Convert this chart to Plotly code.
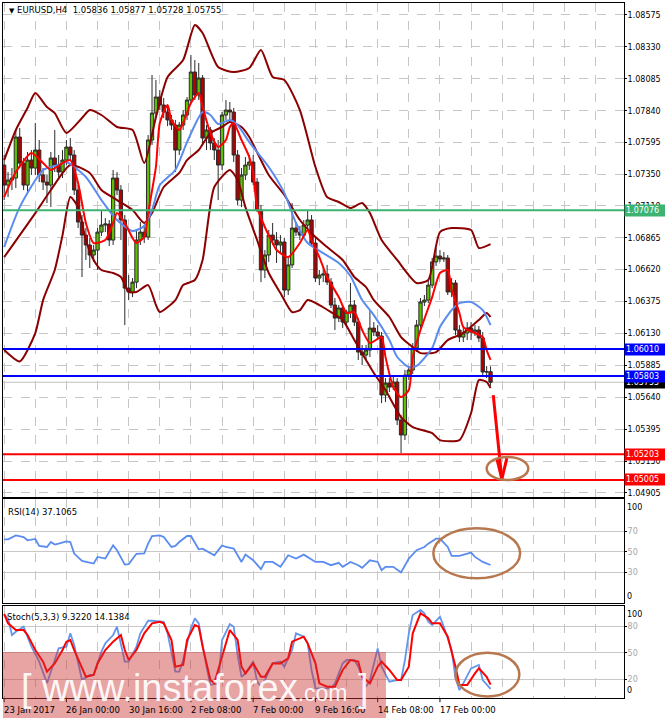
import plotly.graph_objects as go

FONT = "DejaVu Sans"

# EURUSD H4, bar 0 = 23 Jan 2017 08:00 (no weekend bars, like the terminal)
bars = list(range(126))

opens = [1.07423, 1.07269, 1.07308, 1.07323, 1.07638, 1.07438, 1.07269, 1.07461, 1.07400, 1.07538,
         1.07346, 1.07292, 1.07269, 1.07477, 1.07423, 1.07369, 1.07461, 1.07561, 1.07500, 1.07231,
         1.06985, 1.06885, 1.06809, 1.06732, 1.06770, 1.06908, 1.06962, 1.06970, 1.06847, 1.07323,
         1.07231, 1.07001, 1.06478, 1.06448, 1.06524, 1.06847, 1.06908, 1.06870, 1.07615, 1.07822,
         1.07945, 1.07884, 1.07830, 1.07769, 1.07730, 1.07538, 1.07730, 1.07807, 1.07922, 1.08137,
         1.07961, 1.08091, 1.07630, 1.07692, 1.07592, 1.07538, 1.07423, 1.07807, 1.07845, 1.07830,
         1.07500, 1.07154, 1.07346, 1.07423, 1.07446, 1.07292, 1.07077, 1.06617, 1.06732, 1.06885,
         1.06847, 1.06809, 1.06832, 1.06463, 1.06656, 1.06939, 1.06908, 1.06885, 1.06962, 1.07001,
         1.06824, 1.06555, 1.06578, 1.06586, 1.06524, 1.06348, 1.06248, 1.06325, 1.06217, 1.06294,
         1.06348, 1.06217, 1.05987, 1.05964, 1.06002, 1.06171, 1.06141, 1.06110, 1.05657, 1.05749,
         1.05718, 1.05757, 1.05465, 1.05350, 1.05810, 1.05849, 1.06018, 1.06194, 1.06371, 1.06386,
         1.06501, 1.06679, 1.06724, 1.06701, 1.06709, 1.06448, 1.06517, 1.06156, 1.06102, 1.06133,
         1.06171, 1.06141, 1.06156, 1.06095, 1.05834, 1.05836]

highs = [1.07500, 1.07369, 1.07400, 1.07692, 1.07707, 1.07477, 1.07523, 1.07538, 1.07746, 1.07615,
         1.07400, 1.07346, 1.07523, 1.07692, 1.07500, 1.07538, 1.07615, 1.07630, 1.07538, 1.07269,
         1.07039, 1.06939, 1.06862, 1.06809, 1.06939, 1.07077, 1.07016, 1.07001, 1.07385, 1.07369,
         1.07269, 1.07039, 1.06578, 1.06555, 1.06924, 1.06985, 1.06962, 1.07653, 1.08114, 1.08076,
         1.07999, 1.07938, 1.07884, 1.07807, 1.07769, 1.07753, 1.07845, 1.07945, 1.08268, 1.08229,
         1.08206, 1.08114, 1.07730, 1.07715, 1.07630, 1.07615, 1.07830, 1.07922, 1.07907, 1.07861,
         1.07538, 1.07400, 1.07484, 1.07500, 1.07500, 1.07323, 1.07116, 1.06770, 1.06924, 1.06978,
         1.06908, 1.06885, 1.06862, 1.06709, 1.07131, 1.06985, 1.06955, 1.07001, 1.07077, 1.07039,
         1.06862, 1.06617, 1.06632, 1.06656, 1.06555, 1.06402, 1.06348, 1.06348, 1.06309, 1.06517,
         1.06386, 1.06248, 1.06041, 1.06041, 1.06309, 1.06217, 1.06194, 1.06141, 1.05787, 1.05787,
         1.05803, 1.05787, 1.05503, 1.05849, 1.05880, 1.06056, 1.06233, 1.06402, 1.06425, 1.06540,
         1.06709, 1.06786, 1.06770, 1.06755, 1.06732, 1.06555, 1.06540, 1.06194, 1.06171, 1.06217,
         1.06217, 1.06194, 1.06187, 1.06141, 1.05880, 1.05877]

lows = [1.07154, 1.07177, 1.07231, 1.07246, 1.07400, 1.07231, 1.07216, 1.07346, 1.07346, 1.07292,
        1.07231, 1.07131, 1.07100, 1.07369, 1.07308, 1.07323, 1.07423, 1.07461, 1.07193, 1.06939,
        1.06563, 1.06694, 1.06632, 1.06679, 1.06617, 1.06878, 1.06908, 1.06801, 1.06809, 1.07193,
        1.06847, 1.06194, 1.06386, 1.06409, 1.06478, 1.06809, 1.06824, 1.06847, 1.07577, 1.07784,
        1.07845, 1.07784, 1.07722, 1.07692, 1.07369, 1.07500, 1.07692, 1.07769, 1.07899, 1.07922,
        1.07922, 1.07577, 1.07538, 1.07538, 1.07461, 1.07154, 1.07385, 1.07769, 1.07769, 1.07446,
        1.07116, 1.07100, 1.07308, 1.07385, 1.07269, 1.07062, 1.06524, 1.06555, 1.06679, 1.06809,
        1.06671, 1.06755, 1.06409, 1.06425, 1.06632, 1.06878, 1.06847, 1.06862, 1.06924, 1.06801,
        1.06524, 1.06501, 1.06524, 1.06501, 1.06325, 1.06156, 1.06217, 1.06171, 1.06179, 1.06248,
        1.06187, 1.05926, 1.05887, 1.05926, 1.05949, 1.06110, 1.06079, 1.05595, 1.05603, 1.05680,
        1.05695, 1.05426, 1.05212, 1.05311, 1.05772, 1.05819, 1.05987, 1.06156, 1.06340, 1.06363,
        1.06478, 1.06648, 1.06679, 1.06679, 1.06425, 1.06409, 1.06118, 1.06064, 1.06064, 1.06079,
        1.06079, 1.06110, 1.06064, 1.05810, 1.05787, 1.05728]

closes = [1.07269, 1.07308, 1.07323, 1.07638, 1.07438, 1.07269, 1.07461, 1.07400, 1.07538, 1.07346,
          1.07292, 1.07269, 1.07477, 1.07423, 1.07369, 1.07461, 1.07561, 1.07500, 1.07231, 1.06985,
          1.06885, 1.06809, 1.06732, 1.06770, 1.06908, 1.06962, 1.06970, 1.06847, 1.07323, 1.07231,
          1.07001, 1.06478, 1.06448, 1.06524, 1.06847, 1.06908, 1.06870, 1.07615, 1.07822, 1.07945,
          1.07884, 1.07830, 1.07769, 1.07730, 1.07538, 1.07730, 1.07807, 1.07922, 1.08137, 1.07961,
          1.08091, 1.07630, 1.07692, 1.07592, 1.07538, 1.07423, 1.07807, 1.07845, 1.07830, 1.07500,
          1.07154, 1.07346, 1.07423, 1.07446, 1.07292, 1.07077, 1.06617, 1.06732, 1.06885, 1.06847,
          1.06809, 1.06832, 1.06463, 1.06656, 1.06939, 1.06908, 1.06885, 1.06962, 1.07001, 1.06824,
          1.06555, 1.06578, 1.06586, 1.06524, 1.06348, 1.06248, 1.06325, 1.06217, 1.06294, 1.06348,
          1.06217, 1.05987, 1.05964, 1.06002, 1.06171, 1.06141, 1.06110, 1.05657, 1.05749, 1.05718,
          1.05757, 1.05465, 1.05350, 1.05810, 1.05849, 1.06018, 1.06194, 1.06371, 1.06386, 1.06501,
          1.06679, 1.06724, 1.06701, 1.06709, 1.06448, 1.06517, 1.06156, 1.06102, 1.06133, 1.06171,
          1.06141, 1.06156, 1.06095, 1.05834, 1.05836, 1.05755]

# Bollinger bands
ub_bars = [0, 3, 6, 8, 11, 13, 16, 20, 22, 25, 29, 33, 36, 39, 42, 46, 49, 51, 55, 59,
           63, 66, 69, 72, 76, 80, 83, 86, 89, 92, 94, 97, 101, 106, 109, 112, 115, 120, 122, 125]
ub_vals = [1.07461, 1.07692, 1.07861, 1.07976, 1.07868, 1.07822, 1.07669, 1.07784, 1.07845, 1.07807,
           1.07715, 1.07692, 1.07438, 1.07790, 1.08099, 1.08229, 1.08498, 1.08437, 1.08175, 1.08137,
           1.08168, 1.08306, 1.08099, 1.08076, 1.07845, 1.07408, 1.07177, 1.07139, 1.07093, 1.07131,
           1.07054, 1.06847, 1.06694, 1.06517, 1.06540, 1.06908, 1.06939, 1.06924, 1.06786, 1.06816]

mb_bars = [0, 8, 12, 17, 22, 25, 29, 33, 36, 38, 41, 45, 47, 50, 53, 56, 58, 61, 63, 68,
           72, 76, 80, 83, 87, 90, 93, 95, 99, 102, 105, 107, 111, 114, 117, 119, 122, 124, 125]
mb_vals = [1.06716, 1.07054, 1.07231, 1.07423, 1.07362, 1.07231, 1.07154, 1.07077, 1.06978, 1.07054,
           1.07254, 1.07362, 1.07461, 1.07538, 1.07669, 1.07715, 1.07753, 1.07715, 1.07638, 1.07346,
           1.07193, 1.07001, 1.06870, 1.06793, 1.06694, 1.06563, 1.06486, 1.06386, 1.06256, 1.06102,
           1.06025, 1.05979, 1.05987, 1.06079, 1.06118, 1.06156, 1.06233, 1.06287, 1.06256]

lb_bars = [0, 4, 8, 10, 13, 15, 17, 19, 21, 23, 25, 28, 30, 32, 34, 37, 39, 40, 44, 46,
           49, 51, 54, 58, 60, 62, 65, 68, 71, 74, 76, 78, 81, 84, 87, 90, 93, 95, 98, 102,
           105, 110, 112, 117, 120, 122, 124, 125]
lb_vals = [1.06002, 1.05915, 1.06133, 1.06386, 1.06617, 1.06885, 1.07177, 1.07100, 1.06847, 1.06694,
           1.06617, 1.06594, 1.06563, 1.06448, 1.06448, 1.06501, 1.06348, 1.06294, 1.06386, 1.06501,
           1.06540, 1.06694, 1.07254, 1.07385, 1.07308, 1.07100, 1.06847, 1.06594, 1.06440, 1.06294,
           1.06309, 1.06386, 1.06348, 1.06294, 1.06233, 1.06079, 1.05926, 1.05826, 1.05695, 1.05488,
           1.05411, 1.05365, 1.05311, 1.05311, 1.05519, 1.05772, 1.05757, 1.05711]

# slow (blue) and fast (red) moving averages
slow_bars = [0, 4, 10, 14, 16, 21, 25, 29, 33, 36, 38, 40, 44, 47, 51, 53, 55, 58, 60, 63,
             68, 72, 75, 78, 82, 86, 89, 92, 95, 99, 101, 104, 106, 110, 112, 115, 117, 120, 123, 125]
slow_vals = [1.06793, 1.07100, 1.07385, 1.07423, 1.07446, 1.07331, 1.07154, 1.07001, 1.06916, 1.06955,
             1.07077, 1.07269, 1.07385, 1.07599, 1.07830, 1.07807, 1.07738, 1.07769, 1.07730, 1.07599,
             1.07408, 1.07208, 1.06978, 1.06824, 1.06747, 1.06671, 1.06571, 1.06386, 1.06271, 1.06079,
             1.05949, 1.05872, 1.05880, 1.06018, 1.06179, 1.06309, 1.06363, 1.06371, 1.06309, 1.06194]

fast_bars = [0, 3, 7, 10, 12, 15, 17, 19, 21, 23, 26, 28, 29, 31, 33, 34, 36, 37, 39, 40,
             42, 43, 45, 46, 48, 50, 51, 53, 55, 57, 58, 59, 61, 63, 64, 65, 67, 69, 70, 73,
             76, 78, 79, 81, 83, 86, 88, 90, 92, 94, 97, 98, 100, 102, 104, 105, 107, 110, 112, 114,
             115, 117, 118, 121, 123, 124, 125]
fast_vals = [1.07177, 1.07369, 1.07515, 1.07438, 1.07385, 1.07438, 1.07461, 1.07285, 1.06978, 1.06824,
             1.06847, 1.06978, 1.07054, 1.06978, 1.06862, 1.06824, 1.06870, 1.07054, 1.07408, 1.07746,
             1.07884, 1.07769, 1.07692, 1.07746, 1.07899, 1.07976, 1.07868, 1.07669, 1.07561, 1.07615,
             1.07715, 1.07746, 1.07615, 1.07484, 1.07362, 1.07100, 1.06947, 1.06824, 1.06770, 1.06716,
             1.06824, 1.06924, 1.06847, 1.06716, 1.06563, 1.06409, 1.06287, 1.06294, 1.06156, 1.06056,
             1.06102, 1.05949, 1.05718, 1.05641, 1.05695, 1.05949, 1.06156, 1.06409, 1.06594, 1.06617,
             1.06463, 1.06287, 1.06179, 1.06133, 1.06102, 1.06002, 1.05926]

# RSI(14)
rsi_bars = [0, 1, 3, 5, 6, 8, 9, 11, 12, 13, 14, 16, 17, 18, 20, 21, 23, 24, 26, 28,
            29, 31, 32, 34, 36, 37, 38, 40, 41, 43, 44, 45, 47, 48, 50, 51, 54, 56, 57, 59,
            61, 62, 64, 66, 67, 69, 71, 73, 75, 77, 80, 82, 84, 86, 87, 89, 91, 92, 94, 96,
            97, 98, 100, 102, 104, 106, 108, 109, 111, 112, 114, 115, 117, 120, 121, 123, 125]
rsi_vals = [62.1, 62.1, 66.0, 64.4, 61.2, 62.5, 55.7, 54.7, 59.5, 57.0, 57.9, 60.2, 59.5, 48.2, 41.1, 40.1, 38.5, 45.0, 43.4, 56.3,
            51.5, 37.5, 38.0, 48.0, 48.5, 57.9, 65.4, 66.0, 64.4, 54.7, 55.7, 59.5, 65.4, 65.4, 52.4, 53.1, 46.6, 56.3, 54.7, 53.1,
            40.1, 47.2, 41.7, 33.0, 40.1, 40.1, 35.3, 46.6, 43.4, 47.2, 40.1, 40.1, 36.9, 39.2, 35.3, 40.1, 36.9, 34.3, 41.7, 40.1,
            32.0, 35.3, 35.3, 29.8, 43.4, 51.5, 54.7, 57.9, 62.8, 62.8, 54.7, 46.0, 46.0, 49.2, 45.0, 40.1, 37.1]

# Stochastic(5,3,3): main and signal
k_bars = [0, 1, 2, 3, 5, 6, 7, 9, 10, 11, 12, 14, 16, 17, 18, 19, 20, 22, 23, 25,
          26, 28, 29, 31, 32, 34, 35, 37, 38, 41, 42, 44, 45, 46, 48, 49, 50, 52, 53, 55,
          56, 58, 59, 60, 61, 62, 64, 65, 66, 67, 69, 71, 72, 74, 75, 77, 78, 79, 80, 82,
          84, 85, 87, 88, 90, 91, 93, 94, 95, 96, 97, 98, 99, 101, 102, 103, 104, 105, 107, 108,
          109, 110, 112, 113, 115, 116, 117, 118, 120, 122, 123, 125]
k_vals = [92.4, 88.6, 69.9, 73.6, 79.2, 68.0, 56.8, 40.0, 28.7, 15.6, 28.7, 54.9, 56.8, 71.8, 58.6, 38.0, 19.3, 25.0, 25.0, 51.2,
          60.5, 69.9, 79.2, 40.0, 40.0, 56.8, 71.8, 85.9, 85.9, 84.8, 71.8, 28.7, 28.7, 41.8, 77.4, 88.6, 83.0, 34.3, 13.7, 15.6,
          64.3, 82.2, 79.2, 47.4, 23.0, 26.8, 40.0, 17.5, 11.8, 19.3, 38.0, 40.0, 34.3, 53.0, 71.8, 68.0, 60.5, 30.6, 10.0, 10.0,
          10.0, 15.6, 38.0, 41.8, 41.8, 34.3, 11.8, 19.3, 38.0, 54.9, 34.3, 25.0, 17.5, 19.3, 19.3, 41.8, 71.8, 92.4, 98.0, 94.3,
          84.8, 81.1, 90.5, 79.2, 53.0, 21.2, 8.1, 15.6, 32.4, 36.2, 19.3, 9.322]
d_bars = [0, 1, 3, 5, 6, 8, 10, 11, 13, 15, 16, 17, 18, 20, 21, 23, 24, 26, 28, 30,
          31, 32, 34, 36, 38, 40, 41, 43, 44, 46, 47, 49, 50, 51, 53, 54, 56, 58, 60, 61,
          62, 64, 66, 67, 69, 71, 73, 74, 77, 78, 80, 81, 83, 85, 87, 89, 91, 92, 94, 96,
          97, 99, 101, 102, 104, 105, 107, 109, 110, 112, 114, 116, 117, 119, 121, 122, 124, 125]
d_vals = [93.5, 83.0, 75.5, 75.5, 69.9, 53.0, 40.0, 28.7, 38.0, 53.0, 62.4, 64.3, 53.0, 34.3, 23.0, 25.0, 38.0, 53.0, 62.4, 69.9,
          53.0, 41.8, 53.0, 71.8, 83.0, 84.8, 83.0, 64.3, 34.3, 36.2, 64.3, 81.1, 79.2, 56.8, 19.3, 15.6, 45.5, 75.5, 64.3, 34.3,
          26.8, 38.0, 23.0, 23.0, 38.0, 38.0, 43.7, 62.4, 68.0, 60.5, 38.0, 15.6, 11.8, 11.8, 30.6, 41.8, 40.0, 23.0, 15.6, 34.3,
          40.0, 30.6, 19.3, 19.3, 34.3, 71.8, 94.3, 88.6, 83.0, 83.0, 68.0, 34.3, 13.7, 13.7, 26.8, 32.4, 23.0, 14.1384]

# axis labels
date_ticks = [0, 16, 32, 48, 64, 80, 96, 112]
date_labels = ["23 Jan 2017", "26 Jan 00:00", "30 Jan 16:00", "2 Feb 08:00",
               "7 Feb 00:00", "9 Feb 16:00", "14 Feb 08:00", "17 Feb 00:00"]
price_ticks = [1.08575, 1.08330, 1.08085, 1.07840, 1.07595, 1.07350, 1.07110, 1.06865,
               1.06620, 1.06375, 1.06130, 1.05885, 1.05640, 1.05395, 1.05150, 1.04905]
rsi_levels = [30, 50, 70]
stoch_levels = [20, 50, 80]

# horizontal levels drawn by the analyst
green_level = 1.07076
blue_levels = [1.06010, 1.05803]
red_levels = [1.05203, 1.05005]
bid_price = 1.05755

grid_bars = list(range(0, 160, 8))

fig = go.Figure()

fig.add_trace(go.Candlestick(
    x=bars, open=opens, high=highs, low=lows, close=closes,
    increasing=dict(line=dict(color="#2b2b2b", width=1), fillcolor="#5fbf00"),
    decreasing=dict(line=dict(color="#2b2b2b", width=1), fillcolor="#b30000"),
    whiskerwidth=0, hoverinfo="skip", showlegend=False))


def add_line(xs, ys, color, width=2, xa="x", ya="y", smooth=True):
    fig.add_trace(go.Scatter(
        x=xs, y=ys, mode="lines", xaxis=xa, yaxis=ya, hoverinfo="skip", showlegend=False,
        line=dict(color=color, width=width, shape="spline" if smooth else "linear", smoothing=0.6)))


add_line(ub_bars, ub_vals, "#8b0000")
add_line(mb_bars, mb_vals, "#8b0000")
add_line(lb_bars, lb_vals, "#8b0000")
add_line(slow_bars, slow_vals, "#5a8cf0")
add_line(fast_bars, fast_vals, "#ff0000")

add_line(rsi_bars, rsi_vals, "#5a8cf0", 1.8, "x2", "y2", smooth=False)
add_line(k_bars, k_vals, "#6495ed", 1.8, "x3", "y3", smooth=False)
add_line(d_bars, d_vals, "#ff0000", 2, "x3", "y3", smooth=False)

grid = dict(showgrid=True, gridcolor="#c6c6c6", griddash="dash", gridwidth=1)
frame = dict(showline=True, mirror=True, linecolor="#000000", linewidth=1, zeroline=False,
             automargin=False)
xbase = dict(domain=[0, 1], range=[-0.3, 159.3], tickmode="array", tickvals=grid_bars,
             ticks="", showticklabels=False, **grid, **frame)
ybase = dict(side="right", ticks="outside", ticklen=2, tickcolor="#000000",
             ticklabelstandoff=-1, **frame)

fig.update_layout(
    width=665, height=718,
    margin=dict(l=3, r=41, t=3, b=20),
    paper_bgcolor="white", plot_bgcolor="white",
    font=dict(family=FONT, size=8, color="black"),
    boxgap=0.15, boxgroupgap=0,
    showlegend=False,
    xaxis=dict(anchor="y", rangeslider=dict(visible=False), **xbase),
    xaxis2=dict(anchor="y2", matches="x", **xbase),
    xaxis3=dict(anchor="y3", matches="x", **xbase),
    yaxis=dict(domain=[0.2892, 1], anchor="x", range=[1.04874, 1.08667], tickmode="array",
               tickvals=price_ticks, tickformat=".5f", **grid, **ybase),
    yaxis2=dict(domain=[0.1367, 0.2863], anchor="x2", range=[0, 101.5], tickmode="array",
                tickvals=rsi_levels, tickfont=dict(color="#a6a6a6"),
                showgrid=True, gridcolor="#c8c8c8", gridwidth=1, **ybase),
    yaxis3=dict(domain=[0, 0.1324], anchor="x3", range=[-0.9, 102.5], tickmode="array",
                tickvals=stoch_levels, tickfont=dict(color="#a6a6a6"),
                showgrid=True, gridcolor="#c8c8c8", gridwidth=1, **ybase),
)

shapes = []
shapes.append(dict(type="line", xref="paper", x0=0, x1=1, yref="y", y0=bid_price, y1=bid_price,
                   line=dict(color="#c0c0c0", width=1), layer="below"))
shapes.append(dict(type="line", xref="paper", x0=0, x1=1, yref="y", y0=green_level, y1=green_level,
                   line=dict(color="#3cb371", width=2)))
for lv in blue_levels:
    shapes.append(dict(type="line", xref="paper", x0=0, x1=1, yref="y", y0=lv, y1=lv,
                       line=dict(color="#0000ff", width=2)))
for lv in red_levels:
    shapes.append(dict(type="line", xref="paper", x0=0, x1=1, yref="y", y0=lv, y1=lv,
                       line=dict(color="#ff0000", width=2)))

# small tick marks under the date labels
for b in date_ticks:
    shapes.append(dict(type="line", xref="x3", yref="paper", x0=b, x1=b, y0=0, y1=-0.006,
                       line=dict(color="#000000", width=1)))

# forecast arrow
arrow = dict(color="#ff0000", width=3)
shapes.append(dict(type="line", xref="x", yref="y", x0=125.7, y0=1.05657, x1=127.9, y1=1.05012, line=arrow))
shapes.append(dict(type="line", xref="x", yref="y", x0=126.6, y0=1.05173, x1=127.9, y1=1.05012, line=arrow))
shapes.append(dict(type="line", xref="x", yref="y", x0=129.2, y0=1.05173, x1=127.9, y1=1.05012, line=arrow))

# highlight ellipses
ring = dict(color="#b8784f", width=2.5)
shapes.append(dict(type="circle", xref="x", yref="y", x0=124.0, x1=134.7, y0=1.05004, y1=1.05181, line=ring))
shapes.append(dict(type="circle", xref="x2", yref="y2", x0=110.3, x1=132.6, y0=24.1, y1=72.9, line=ring))
shapes.append(dict(type="circle", xref="x3", yref="y3", x0=116.0, x1=132.4, y0=0.8, y1=50.0, line=ring))

# watermark band
shapes.append(dict(type="rect", xref="paper", yref="paper", x0=0, x1=0.6167, y0=-0.0288, y1=0.0662,
                   fillcolor="rgba(205,50,50,0.45)", line=dict(width=0), layer="above"))
fig.update_layout(shapes=shapes)

ann = []
ann.append(dict(xref="paper", yref="paper", x=0.006, y=0.990, xanchor="left", yanchor="middle",
                showarrow=False, font=dict(size=8.5),
                text="<span style='font-size:7px'>▼</span> EURUSD,H4  1.05836 1.05877 1.05728 1.05755"))
ann.append(dict(xref="paper", yref="paper", x=0.005, y=0.2676, xanchor="left", yanchor="middle",
                showarrow=False, font=dict(size=8.5), text="RSI(14) 37.1065"))
ann.append(dict(xref="paper", yref="paper", x=0.003, y=0.1165, xanchor="left", yanchor="middle",
                showarrow=False, font=dict(size=8.5), text="Stoch(5,3,3) 9.3220 14.1384"))

# date labels, left-aligned on their bar like the terminal does
for b, label in zip(date_ticks, date_labels):
    ann.append(dict(xref="x3", yref="paper", x=b, y=-0.0072, xanchor="left", yanchor="top",
                    xshift=-2, showarrow=False, font=dict(size=8.5), text=label))

for ya, lo, hi in (("y2", 0, 100), ("y3", 0, 100)):
    ann.append(dict(xref="paper", yref=ya, x=1, y=hi, xanchor="left", yanchor="top", xshift=1,
                    showarrow=False, text=str(hi)))
    ann.append(dict(xref="paper", yref=ya, x=1, y=lo, xanchor="left", yanchor="bottom", xshift=1,
                    showarrow=False, text=str(lo)))


def price_tag(value, color):
    ann.append(dict(xref="paper", yref="y", x=1, y=value, xanchor="left", yanchor="middle", xshift=0,
                    showarrow=False, text=f"{value:.5f}", bgcolor=color, borderpad=1,
                    width=39, align="left", font=dict(color="white", size=8)))


price_tag(green_level, "#3cb371")
price_tag(bid_price, "#000000")
for lv in blue_levels:
    price_tag(lv, "#0000ff")
for lv in red_levels:
    price_tag(lv, "#ff0000")

ann.append(dict(xref="paper", yref="paper", x=0.309, y=0.0144, xanchor="center", yanchor="middle",
                showarrow=False, font=dict(family="Liberation Sans", size=38, color="rgba(255,255,255,0.92)"),
                text="[ www.instaforex<span style='font-size:23px'>.com</span> ]"))

fig.update_layout(annotations=ann)

# the page's default body margin would shift the chart; drop it
fig.write_html("out.html", config={"displayModeBar": False},
               post_script="document.body.style.margin='0px';")
